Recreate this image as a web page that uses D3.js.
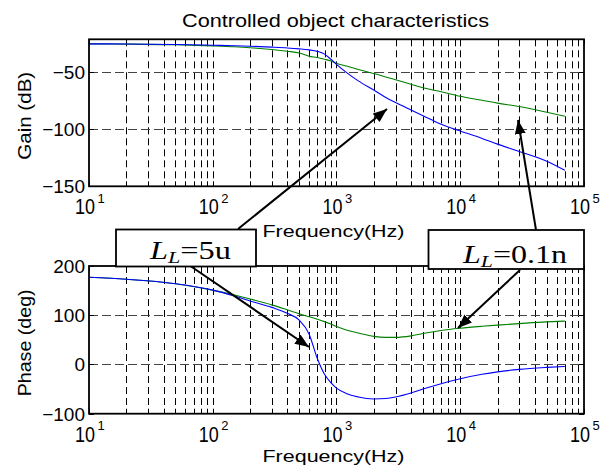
<!DOCTYPE html>
<html>
<head>
<meta charset="utf-8">
<script src="https://cdn.jsdelivr.net/npm/d3@7"></script>
<style>
  body { margin: 0; background: #fff; }
  text { font-family: "Liberation Sans", Arial, sans-serif; }
</style>
</head>
<body>
<div id="chart"></div>
<script>
// data (frequency in Hz)
var freq = [10, 20, 50, 100, 150, 200, 300, 400, 500, 600, 700, 800, 900, 1000, 1200, 1500,
            2000, 2500, 3000, 4000, 5000, 7000, 10000, 15000, 20000, 30000, 50000, 70000];
// L_L = 5u (blue)
var gain5u = [-25, -25.1, -25.5, -26.2, -26.7, -27.1, -27.9, -28.6, -29.4, -30.3, -31.6, -34, -38.5, -43, -50, -57.5,
              -65.5, -72, -76.5, -83, -88, -95.5, -101.5, -108, -113, -119.5, -128, -136];
var phase5u = [177, 173, 164, 151, 139, 129, 116, 104, 90, 62, 12, -20, -37, -48, -59, -66,
               -70, -69, -66, -58, -50, -39, -29, -20, -15, -10, -6, -4];
// L_L = 0.1n (green)
var gain01n = [-25, -25.2, -25.8, -26.8, -27.6, -28.4, -30, -31.5, -33, -35.8, -37, -38.5, -40, -42, -44.5, -47.5,
               -51, -54, -56.5, -60.5, -63.5, -67, -71, -74.5, -77, -80, -85, -88.5];
var phase01n = [177, 173, 164, 151, 141, 133, 121, 111, 103, 97, 92, 87, 82, 77, 70, 64,
                57, 55, 55, 58, 63, 69, 73.5, 77.5, 80, 83, 86.5, 88];

var gainTicks = [-150, -100, -50];
var phaseTicks = [-100, 0, 100, 200];
var decades = [1, 2, 3, 4, 5];

var width = 605, height = 471;
var left = 89, right = 584;

var svg = d3.select("#chart").append("svg")
    .attr("width", width)
    .attr("height", height);
svg.append("rect").attr("width", width).attr("height", height).attr("fill", "#fff");

// minor positions for grid / ticks
var minor = [];
for (var d = 1; d <= 4; d++) {
    for (var k = 1; k <= 9; k++) {
        minor.push(k * Math.pow(10, d));
    }
}
minor.push(1e5);

function drawPanel(top, bottom, yDomain, yTicks, series, ylabel, ylabelLen, xlabelY) {
    var x = d3.scaleLog().domain([10, 1e5]).range([left, right]);
    var y = d3.scaleLinear().domain(yDomain).range([bottom, top]);
    var g = svg.append("g");

    // vertical grid
    g.selectAll(".vg").data(minor.filter(function (f) { return f > 10 && f < 1e5; }))
        .enter().append("line")
        .attr("x1", function (f) { return Math.round(x(f)) + 0.5; })
        .attr("x2", function (f) { return Math.round(x(f)) + 0.5; })
        .attr("y1", top).attr("y2", bottom)
        .attr("stroke", "#000").attr("stroke-width", 1)
        .attr("stroke-dasharray", "7,4");

    // horizontal grid
    g.selectAll(".hg").data(yTicks.filter(function (v) { return v > yDomain[0] && v < yDomain[1]; }))
        .enter().append("line")
        .attr("x1", left).attr("x2", right)
        .attr("y1", function (v) { return Math.round(y(v)) + 0.5; })
        .attr("y2", function (v) { return Math.round(y(v)) + 0.5; })
        .attr("stroke", "#444").attr("stroke-width", 1)
        .attr("stroke-dasharray", "9,4");

    // x ticks on top and bottom (inside)
    g.selectAll(".xt").data(minor).enter().append("path")
        .attr("d", function (f) {
            var px = Math.round(x(f)) + 0.5;
            return "M" + px + "," + bottom + "v-5M" + px + "," + top + "v5";
        })
        .attr("stroke", "#000").attr("stroke-width", 1);

    // y ticks on left and right
    g.selectAll(".yt").data(yTicks).enter().append("path")
        .attr("d", function (v) {
            var py = Math.round(y(v)) + 0.5;
            return "M" + left + "," + py + "h5M" + right + "," + py + "h-5";
        })
        .attr("stroke", "#000").attr("stroke-width", 1);

    // curves
    var line = d3.line()
        .x(function (p) { return x(p[0]); })
        .y(function (p) { return y(p[1]); })
        .curve(d3.curveMonotoneX);
    series.forEach(function (s) {
        g.append("path")
            .datum(freq.map(function (f, i) { return [f, s.values[i]]; }))
            .attr("d", line)
            .attr("fill", "none")
            .attr("stroke", s.color)
            .attr("stroke-width", 1.1);
    });

    // frame
    g.append("rect")
        .attr("x", left).attr("y", top)
        .attr("width", right - left).attr("height", bottom - top)
        .attr("fill", "none").attr("stroke", "#000").attr("stroke-width", 1.8);

    // y tick labels
    g.selectAll(".yl").data(yTicks).enter().append("text")
        .attr("x", left - 4)
        .attr("y", function (v) { return y(v) + 7; })
        .attr("text-anchor", "end")
        .attr("font-size", 19)
        .text(function (v) { return v < 0 ? "\u2212" + Math.abs(v) : v; });

    // x tick labels 10^n
    decades.forEach(function (n) {
        var px = x(Math.pow(10, n));
        var t = g.append("text")
            .attr("x", px - 14).attr("y", bottom + 28)
            .attr("font-size", 22);
        t.append("tspan")
            .attr("textLength", 20)
            .attr("lengthAdjust", "spacingAndGlyphs")
            .text("10");
        t.append("tspan")
            .attr("x", px + 8.5).attr("dy", -11.5)
            .attr("font-size", 13)
            .text(n);
    });

    // axis labels
    g.append("text")
        .attr("x", (left + right) / 2 - 74).attr("y", xlabelY)
        .attr("font-size", 17)
        .attr("textLength", 142)
        .attr("lengthAdjust", "spacingAndGlyphs")
        .text("Frequency(Hz)");
    g.append("text")
        .attr("transform", "translate(31," + ((top + bottom) / 2 + 3 + ylabelLen / 2) + ") rotate(-90)")
        .attr("font-size", 18)
        .attr("textLength", ylabelLen)
        .attr("lengthAdjust", "spacingAndGlyphs")
        .text(ylabel);
}

// title
svg.append("text")
    .attr("x", 182).attr("y", 27)
    .attr("font-size", 18.5)
    .attr("textLength", 307)
    .attr("lengthAdjust", "spacingAndGlyphs")
    .text("Controlled object characteristics");

drawPanel(39.3, 186.3, [-150, -21], gainTicks,
    [{ values: gain01n, color: "#008000" }, { values: gain5u, color: "#0000ff" }],
    "Gain (dB)", 88, 237);
drawPanel(266, 413.7, [-100, 200], phaseTicks,
    [{ values: phase01n, color: "#008000" }, { values: phase5u, color: "#0000ff" }],
    "Phase (deg)", 107, 461.5);

// annotation arrows
svg.append("defs").append("marker")
    .attr("id", "head")
    .attr("viewBox", "0 0 14 11")
    .attr("refX", 14).attr("refY", 5.5)
    .attr("markerWidth", 14).attr("markerHeight", 11)
    .attr("markerUnits", "userSpaceOnUse")
    .attr("orient", "auto")
    .append("path").attr("d", "M0,0L14,5.5L0,11Z").attr("fill", "#000");

var arrows = [
    [238, 229, 387, 109],
    [536, 230, 518, 120],
    [186, 263, 309, 347],
    [520, 270, 458, 328]
];
svg.selectAll(".arrow").data(arrows).enter().append("line")
    .attr("x1", function (a) { return a[0]; })
    .attr("y1", function (a) { return a[1]; })
    .attr("x2", function (a) { return a[2]; })
    .attr("y2", function (a) { return a[3]; })
    .attr("stroke", "#000").attr("stroke-width", 2)
    .attr("marker-end", "url(#head)");

// label boxes
var boxes = [
    { x: 116, y: 229.5, w: 140, h: 37, tx: 150, ty: 259, len: 81, val: "=5u" },
    { x: 428.5, y: 230, w: 155.5, h: 39, tx: 463, ty: 263, len: 104, val: "=0.1n" }
];
boxes.forEach(function (b) {
    svg.append("rect")
        .attr("x", b.x).attr("y", b.y).attr("width", b.w).attr("height", b.h)
        .attr("fill", "#fff").attr("stroke", "#000").attr("stroke-width", 1.8);
    var t = svg.append("text")
        .attr("x", b.tx).attr("y", b.ty)
        .style("font-family", "'Liberation Serif', 'Times New Roman', serif")
        .attr("font-size", 25)
        .attr("textLength", b.len)
        .attr("lengthAdjust", "spacingAndGlyphs");
    t.append("tspan").attr("font-style", "italic").text("L");
    t.append("tspan").attr("font-style", "italic").attr("font-size", 17).attr("dy", 4).text("L");
    t.append("tspan").attr("dy", -4).text(b.val);
});
</script>
</body>
</html>
